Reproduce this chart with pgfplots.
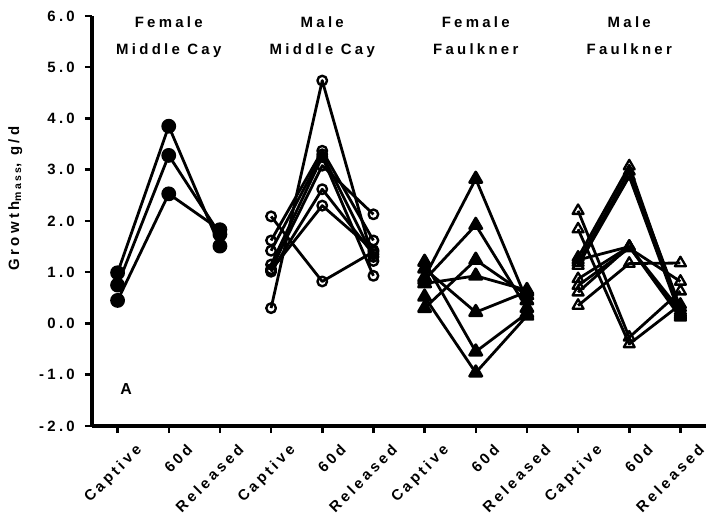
\documentclass[border=0pt]{standalone}
\usepackage{fontspec}
\setmainfont{Liberation Sans}[LetterSpace=22]
\usepackage{pgfplots}
\pgfplotsset{compat=1.18}
\pgfplotsset{
 ln/.style={black, line width=2.8bp, line join=round},
 fmc/.style={ln, mark=*, mark size=6bp, mark options={solid, fill=black}},
 mmc/.style={ln, mark=o, mark size=4.8bp, mark options={solid, line width=2.4bp}},
 ff/.style={ln, mark=triangle*, mark size=7bp, mark options={solid, fill=black}},
 mf/.style={ln, mark=triangle, mark size=6.3bp, mark options={solid, line width=2.3bp}},
}
\newcommand{\lf}{\fontsize{15}{17}\selectfont\bfseries}
\begin{document}
\begin{tikzpicture}[font=\lf]
\begin{axis}[
  scale only axis, width=614bp, height=410bp,
  at={(92bp,105bp)}, anchor=south west,
  xmin=-0.5, xmax=11.5, ymin=-2, ymax=6,
  axis x line*=bottom, axis y line*=left,
  axis line style={line width=3bp, -},
  xtick={0,...,11},
  xticklabels={Captive,60d,Released,Captive,60d,Released,Captive,60d,Released,Captive,60d,Released},
  ytick={-2,...,6},
  yticklabels={-2.0,-1.0,0.0,1.0,2.0,3.0,4.0,5.0,6.0},
  tick align=outside, major tick length=7bp,
  tick style={line width=2.5bp, black},
  xticklabel style={rotate=45, anchor=north east, inner sep=0pt, xshift=5bp, yshift=-19bp, font=\lf},
  yticklabel style={inner sep=0pt, anchor=east, xshift=-10bp, font=\lf},
  ylabel={Growth\textsubscript{mass}, g/d},
  ylabel style={at={(axis description cs:-0.125,0.555)}, anchor=center, font=\lf},
  clip=false,
]
% Female Middle Cay
\addplot[fmc] coordinates {(0,0.99) (1,3.85) (2,1.51)};
\addplot[fmc] coordinates {(0,0.75) (1,3.28) (2,1.74)};
\addplot[fmc] coordinates {(0,0.45) (1,2.53) (2,1.83)};
% Male Middle Cay
\addplot[mmc] coordinates {(3,0.30) (4,4.74) (5,1.22)};
\addplot[mmc] coordinates {(3,2.09) (4,0.82) (5,1.40)};
\addplot[mmc] coordinates {(3,1.62) (4,3.37) (5,1.62)};
\addplot[mmc] coordinates {(3,1.42) (4,3.30) (5,1.30)};
\addplot[mmc] coordinates {(3,1.15) (4,3.25) (5,0.93)};
\addplot[mmc] coordinates {(3,1.06) (4,3.08) (5,2.13)};
\addplot[mmc] coordinates {(3,1.01) (4,2.62) (5,1.35)};
\addplot[mmc] coordinates {(3,1.04) (4,2.30) (5,1.43)};
% Female Faulkner
\addplot[ff] coordinates {(6,0.90) (7,2.82) (8,0.45)};
\addplot[ff] coordinates {(6,0.85) (7,1.92) (8,0.30)};
\addplot[ff] coordinates {(6,0.30) (7,1.24) (8,0.55)};
\addplot[ff] coordinates {(6,0.78) (7,0.93) (8,0.65)};
\addplot[ff] coordinates {(6,1.07) (7,0.22) (8,0.62)};
\addplot[ff] coordinates {(6,1.20) (7,-0.55) (8,0.20)};
\addplot[ff] coordinates {(6,0.52) (7,-0.96) (8,0.15)};
% Male Faulkner
\addplot[mf] coordinates {(9,1.29) (10,3.07) (11,0.21)};
\addplot[mf] coordinates {(9,1.19) (10,2.97) (11,0.31)};
\addplot[mf] coordinates {(9,1.13) (10,2.87) (11,0.15)};
\addplot[mf] coordinates {(9,2.20) (10,-0.27) (11,0.63)};
\addplot[mf] coordinates {(9,1.84) (10,-0.40) (11,0.37)};
\addplot[mf] coordinates {(9,0.35) (10,1.17) (11,1.18)};
\addplot[mf] coordinates {(9,1.24) (10,1.50) (11,0.25)};
\addplot[mf] coordinates {(9,0.87) (10,1.50) (11,0.18)};
\addplot[mf] coordinates {(9,0.74) (10,1.47) (11,0.82)};
\addplot[mf] coordinates {(9,0.61) (10,1.50) (11,0.12)};
% group titles
\node[anchor=base] at (axis cs:1,5.78) {Female};
\node[anchor=base] at (axis cs:1,5.25) {Middle Cay};
\node[anchor=base] at (axis cs:4,5.78) {Male};
\node[anchor=base] at (axis cs:4,5.25) {Middle Cay};
\node[anchor=base] at (axis cs:7,5.78) {Female};
\node[anchor=base] at (axis cs:7,5.25) {Faulkner};
\node[anchor=base] at (axis cs:10,5.78) {Male};
\node[anchor=base] at (axis cs:10,5.25) {Faulkner};
\node[anchor=west, inner sep=0pt, font=\fontsize{16}{18}\selectfont\bfseries] at (axis cs:0.05,-1.28) {A};
\end{axis}
\pgfresetboundingbox
\useasboundingbox (0,0) rectangle (706bp,531bp);
\end{tikzpicture}
\end{document}
